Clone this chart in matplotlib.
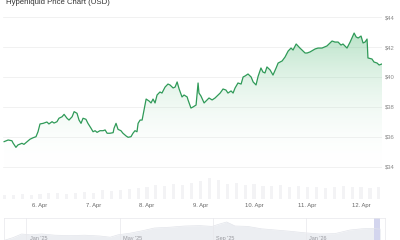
import matplotlib
matplotlib.use("Agg")
import matplotlib.pyplot as plt
import numpy as np
from matplotlib.colors import LinearSegmentedColormap

plt.rcParams['font.family'] = ['Liberation Sans', 'DejaVu Sans']

# --------------------------------
# Data
# --------------------------------

# hours since 5 Apr 00:00
hours = [7.9, 9.7, 11.4, 11.9, 13.2, 14.1, 15.9, 16.8, 18.2, 19.5, 20.9, 22.2,
         23.1, 24.0, 25.4, 26.2, 27.1, 28.0, 29.4, 30.3, 31.6, 32.5, 33.9, 34.8,
         36.1, 37.0, 38.4, 39.3, 40.6, 41.5, 42.4, 43.3, 44.6, 45.5, 46.9, 47.8,
         48.7, 49.6, 50.9, 52.3, 53.2, 54.1, 55.4, 56.8, 57.2, 58.1, 59.0, 60.3,
         61.2, 62.6, 63.5, 64.8, 65.7, 66.6, 67.5, 68.0, 68.9, 69.8, 71.6, 72.9,
         73.8, 74.7, 75.6, 76.5, 77.8, 78.7, 80.1, 81.4, 82.3, 83.7, 84.6, 85.5,
         86.4, 87.7, 88.6, 90.0, 90.4, 91.7, 92.6, 94.0, 94.9, 95.3, 96.2, 97.6,
         98.9, 99.8, 101.2, 102.5, 103.4, 104.8, 106.1, 107.4, 108.3, 109.7, 110.6,
         111.5, 112.8, 114.2, 115.1, 116.0, 117.3, 118.7, 119.6, 120.9, 121.8,
         123.1, 124.0, 124.9, 125.8, 127.2, 128.5, 129.9, 130.8, 132.6, 133.9,
         135.3, 136.6, 137.5, 138.9, 140.6, 142.9, 143.8, 145.1, 147.4, 148.7,
         150.5, 152.7, 155.0, 156.3, 157.7, 159.0, 159.9, 161.7, 163.1, 164.9,
         165.8, 166.7, 168.0, 168.9, 169.8, 170.7, 171.1, 172.9, 173.8, 175.2,
         176.1, 177.4]

prices = [35.69, 35.80, 35.75, 35.60, 35.31, 35.47, 35.58, 35.51, 35.69, 35.85, 35.95, 36.02,
          36.35, 36.87, 36.91, 36.95, 37.00, 36.87, 37.02, 36.93, 37.02, 37.25, 37.35, 37.51,
          37.25, 37.13, 37.35, 37.69, 37.58, 37.13, 36.91, 37.25, 37.18, 36.91, 36.58, 36.35,
          36.42, 36.31, 36.42, 36.42, 36.47, 36.25, 36.25, 36.29, 36.58, 36.91, 36.51, 36.42,
          36.25, 36.07, 35.98, 36.02, 36.25, 36.42, 36.35, 36.91, 37.13, 37.13, 38.53, 38.40,
          38.27, 38.53, 38.27, 38.80, 39.00, 38.93, 39.33, 39.53, 39.47, 39.27, 39.33, 39.67,
          39.20, 38.67, 38.80, 38.67, 38.47, 37.93, 38.00, 38.13, 39.60, 38.93, 38.73, 38.27,
          38.47, 38.60, 38.47, 38.60, 38.73, 38.93, 39.20, 39.13, 38.93, 39.07, 38.93,
          39.27, 39.60, 39.53, 40.00, 40.07, 40.20, 40.00, 39.67, 39.47, 40.03,
          40.60, 40.33, 40.27, 40.67, 40.47, 40.13, 40.60, 40.93, 41.07, 41.33,
          41.73, 41.93, 41.80, 42.20, 41.93, 41.60, 41.60, 41.67, 41.87, 41.93,
          41.93, 42.07, 42.40, 42.33, 42.33, 42.13, 42.20, 41.93, 42.33, 42.93,
          42.67, 42.60, 42.73, 42.27, 42.33, 42.53, 41.27, 41.20, 41.00, 40.93,
          40.80, 40.87]

vol_hours = [8, 12, 16, 20, 24, 28, 32, 36, 40, 44, 48, 52, 56, 60, 64, 68, 72, 76,
             80, 84, 88, 92, 96, 100, 104, 108, 112, 116, 120, 124, 128, 132, 136,
             140, 144, 148, 152, 156, 160, 164, 168, 172, 176]
volumes = [4, 4, 5, 4, 5, 6, 6, 5, 6, 7, 6, 9, 8, 9, 10, 11, 12, 14, 13, 15, 14, 16,
           18, 21, 19, 15, 16, 14, 15, 13, 13, 14, 12, 13, 12, 12, 11, 12, 13, 12,
           12, 11, 12]

day_ticks = [24, 48, 72, 96, 120, 144, 168]
day_labels = ["6. Apr", "7. Apr", "8. Apr", "9. Apr", "10. Apr", "11. Apr", "12. Apr"]
price_ticks = [34, 36, 38, 40, 42, 44]

# navigator: months since 1 Dec 2024
nav_months = [0.1, 0.43, 0.8, 1.16, 1.67, 2.23, 2.9, 3.5, 4.16, 4.6, 4.94, 5.45,
              5.97, 6.5, 7.17, 7.8, 8.45, 8.97, 9.3, 9.6, 9.96, 10.5, 11.1, 11.7,
              12.3, 12.96, 13.6, 14.25, 14.9, 15.4, 15.84, 16.2]
nav_prices = [15, 21, 30, 28, 30, 27, 26, 27, 25, 22, 28, 32,
              38, 45, 47, 50, 51, 49, 55, 60, 50, 49, 43, 40,
              37, 33, 30, 31, 40, 43, 44, 42]
nav_ticks = [1, 5, 9, 13]
nav_labels = ["Jan '25", "May '25", "Sep '25", "Jan '26"]

# --------------------------------
# Figure
# --------------------------------

W, H = 400, 240
fig = plt.figure(figsize=(4, 2.4), dpi=100)

def box(x0, y0, x1, y1):
    return [x0 / W, 1 - y1 / H, (x1 - x0) / W, (y1 - y0) / H]

line_color = "#2f9a58"
grid_color = "#ececec"

fig.text(6 / W, 1 - 4 / H, "Hyperliquid Price Chart (USD)", fontsize=5.6,
         color="#333333", va="baseline", ha="left")

# price axes
ax = fig.add_axes(box(3, 14, 382, 170))
ax.set_xlim(7.4, 177.4)
ax.set_ylim(33.8, 44.2)

poly = ax.fill_between(hours, prices, 33.8, color="none", lw=0)
cmap = LinearSegmentedColormap.from_list("g", [(1, 1, 1, 0), (0.30, 0.72, 0.45, 0.38)])
grad = np.linspace(0, 1, 256).reshape(-1, 1)
img = ax.imshow(grad, extent=[7.4, 177.4, 33.8, max(prices)], origin="lower",
                aspect="auto", cmap=cmap, zorder=1)
path = poly.get_paths()[0]
img.set_clip_path(path, transform=ax.transData)

ax.plot(hours, prices, color=line_color, lw=0.9, zorder=3)

for p in price_ticks:
    ax.axhline(p, color=grid_color, lw=0.5, zorder=0)

ax.set_yticks(price_ticks)
ax.set_yticklabels([f"${p}" for p in price_ticks])
ax.yaxis.tick_right()
ax.tick_params(axis="y", length=0, pad=2, labelsize=4.2, labelcolor="#8a8a8a")
ax.set_xticks([])
for s in ax.spines.values():
    s.set_visible(False)
ax.patch.set_alpha(0)

# volume axes
axv = fig.add_axes(box(3, 172, 382, 199))
axv.bar(vol_hours, volumes, width=1.4, color="#f3f3f5", lw=0)
axv.set_xlim(7.4, 177.4)
axv.set_ylim(0, 27)
axv.set_yticks([])
axv.set_xticks(day_ticks)
axv.set_xticklabels(day_labels)
axv.tick_params(axis="x", length=0, pad=3, labelsize=4.2, labelcolor="#666666")
for s in axv.spines.values():
    s.set_visible(False)
axv.patch.set_alpha(0)

# navigator
axn = fig.add_axes(box(4, 218, 385, 246))
axn.fill_between(nav_months, nav_prices, 0, color="#eceef2", lw=0)
axn.plot(nav_months, nav_prices, color="#e2e4ea", lw=0.5)
axn.set_xlim(0.04, 16.4)
axn.set_ylim(0, 70)
for m, lab in zip(nav_ticks, nav_labels):
    axn.axvline(m, color="#e8e8ec", lw=0.5)
    axn.text(m + 0.15, 19, lab, fontsize=4, color="#9a9aa0", va="center", ha="left")
axn.axvspan(15.93, 16.2, color="#d3d5ee", lw=0)
axn.set_xticks([])
axn.set_yticks([])
for s in axn.spines.values():
    s.set_color("#e8e8ec")
    s.set_linewidth(0.5)

fig.savefig("out.png", dpi=100)
